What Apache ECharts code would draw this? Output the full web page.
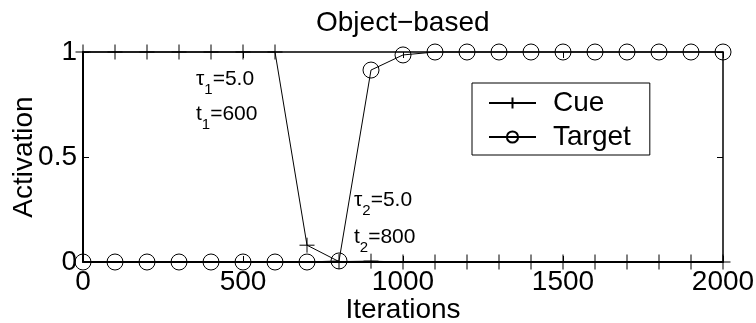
<!DOCTYPE html>
<html>
<head>
<meta charset="utf-8">
<script src="https://cdn.jsdelivr.net/npm/echarts@6/dist/echarts.min.js"></script>
<style>
html,body{margin:0;padding:0;background:#fff;}
#chart{width:756px;height:323px;}
</style>
</head>
<body>
<div id="chart"></div>
<script>
// ---- data ----
var iterations = [0,100,200,300,400,500,600,700,800,900,1000,1100,1200,1300,1400,1500,1600,1700,1800,1900,2000];
var cueValues = [1,1,1,1,1,1,1,0.08,0.002,0.004,0,0,0,0,0,0,0,0,0,0,0];
var targetValues = [0,0,0,0,0,0,0,0,0.005,0.914,0.986,1,1,1,1,1,1,1,1,1,1];
var xTicks = [0,500,1000,1500,2000];
var yTicks = [0,0.5,1];
var seriesNames = ['Cue','Target'];
var titleText = 'Object\u2212based';
var xName = 'Iterations';
var yName = 'Activation';
var notes = [
  {tau:'1', tval:'5.0', t:'1', tt:'600'},
  {tau:'2', tval:'5.0', t:'2', tt:'800'}
];

function pairs(xs, ys){ return xs.map(function(x,i){return [x, ys[i]];}); }

var FONT = 'Liberation Sans';
var FS = 28;
var chart = echarts.init(document.getElementById('chart'), null, {renderer:'canvas'});

var plusSym = 'path://M7,0L7,14M0,7L14,7';
var noteRich = {
  m:{fontFamily:FONT,fontSize:21,color:'#000',verticalAlign:'top',lineHeight:21},
  s:{fontFamily:FONT,fontSize:15,color:'#000',verticalAlign:'top',lineHeight:15,padding:[13,0,0,0]}
};
function noteText(sym, sub, val){
  return '{m|' + sym + '}{s|' + sub + '}{m|=' + val + '}';
}

var option = {
  animation:false,
  backgroundColor:'#fff',
  title:{
    text:titleText, left:316, top:9, padding:0,
    textStyle:{fontFamily:FONT,fontSize:FS,fontWeight:'normal',color:'#000'}
  },
  grid:{left:83, right:33, top:52, bottom:61, containLabel:false, outerBoundsMode:'none'},
  legend:{
    orient:'vertical', left:472, top:83,
    padding:[6,19,4,16], itemGap:6, itemWidth:47, itemHeight:14,
    backgroundColor:'#fff', borderColor:'#000', borderWidth:1, borderRadius:0,
    textStyle:{fontFamily:FONT,fontSize:FS,color:'#000',lineHeight:28,padding:[0,0,0,12]},
    data:seriesNames
  },
  xAxis:[{
    type:'value', min:xTicks[0], max:xTicks[xTicks.length-1], interval:500,
    position:'bottom',
    name:xName, nameLocation:'middle', nameGap:34, nameMoveOverlap:false,
    nameTextStyle:{fontFamily:FONT,fontSize:FS,color:'#000'},
    axisLine:{onZero:false,lineStyle:{color:'#000',width:2}},
    axisTick:{inside:true,length:6,lineStyle:{color:'#000',width:1}},
    axisLabel:{fontFamily:FONT,fontSize:FS,color:'#000',margin:6,formatter:function(v){return String(v);}},
    splitLine:{show:false}
  },{
    type:'value', min:xTicks[0], max:xTicks[xTicks.length-1], interval:500,
    position:'top',
    axisLine:{onZero:false,lineStyle:{color:'#000',width:1.5}},
    axisTick:{inside:true,length:6,lineStyle:{color:'#000',width:1}},
    axisLabel:{show:false}, splitLine:{show:false}
  }],
  yAxis:[{
    type:'value', min:yTicks[0], max:yTicks[yTicks.length-1], interval:0.5,
    position:'left',
    name:yName, nameLocation:'middle', nameGap:45, nameMoveOverlap:false,
    nameTextStyle:{fontFamily:FONT,fontSize:FS,color:'#000'},
    axisLine:{onZero:false,lineStyle:{color:'#000',width:2}},
    axisTick:{inside:true,length:6,lineStyle:{color:'#000',width:1}},
    axisLabel:{fontFamily:FONT,fontSize:FS,color:'#000',margin:6,formatter:function(v){return String(v);}},
    splitLine:{show:false}
  },{
    type:'value', min:yTicks[0], max:yTicks[yTicks.length-1], interval:0.5,
    position:'right',
    axisLine:{onZero:false,lineStyle:{color:'#000',width:1.5}},
    axisTick:{inside:true,length:6,lineStyle:{color:'#000',width:1}},
    axisLabel:{show:false}, splitLine:{show:false}
  }],
  series:[{
    name:seriesNames[0], type:'line', xAxisIndex:0, yAxisIndex:0,
    data:pairs(iterations, cueValues), clip:false,
    symbol:plusSym, symbolSize:15, showAllSymbol:true,
    lineStyle:{color:'#000',width:1},
    itemStyle:{color:'rgba(0,0,0,0)',borderColor:'#000',borderWidth:1},
    emphasis:{disabled:true}
  },{
    name:seriesNames[1], type:'line', xAxisIndex:0, yAxisIndex:0,
    data:pairs(iterations, targetValues), clip:false,
    symbol:'circle', symbolSize:16, showAllSymbol:true,
    lineStyle:{color:'#000',width:1},
    itemStyle:{color:'rgba(0,0,0,0)',borderColor:'#000',borderWidth:1},
    emphasis:{disabled:true}
  }],
  graphic:[
    {type:'text', left:196, top:69, style:{text:noteText('\u03c4',notes[0].tau,notes[0].tval), rich:noteRich}},
    {type:'text', left:196, top:104, style:{text:noteText('t',notes[0].t,notes[0].tt), rich:noteRich}},
    {type:'text', left:354, top:190, style:{text:noteText('\u03c4',notes[1].tau,notes[1].tval), rich:noteRich}},
    {type:'text', left:354, top:227, style:{text:noteText('t',notes[1].t,notes[1].tt), rich:noteRich}}
  ]
};
chart.setOption(option);
</script>
</body>
</html>
